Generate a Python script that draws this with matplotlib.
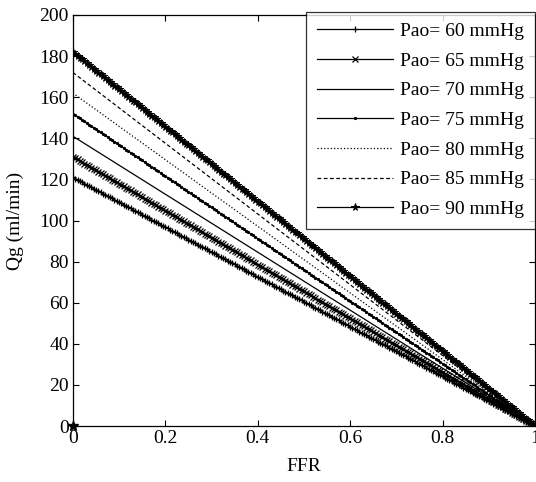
import numpy as np
import matplotlib
matplotlib.use("Agg")
import matplotlib.pyplot as plt
from matplotlib.ticker import FixedLocator, FixedFormatter

plt.rcParams['font.family'] = ['Liberation Serif', 'DejaVu Serif']

# Data
pao_mmhg = [60, 65, 70, 75, 80, 85, 90]
qg_at_ffr0 = [121, 131, 141, 152, 162, 172, 182]   # Qg (ml/min) at FFR = 0
qg_at_ffr1 = [0, 0, 0, 0, 0, 0, 0]                 # Qg (ml/min) at FFR = 1
ffr_start, ffr_end = 0.0, 1.0
extra_point_ffr = [0.0]
extra_point_qg = [0.0]

x_ticks = [0, 0.2, 0.4, 0.6, 0.8, 1.0]
x_tick_labels = ['0', '0.2', '0.4', '0.6', '0.8', '1']
y_ticks = [0, 20, 40, 60, 80, 100, 120, 140, 160, 180, 200]

styles = [
    dict(ls='-', marker='+', ms=5, mew=0.9),
    dict(ls='-', marker='x', ms=4, mew=0.9),
    dict(ls='-', marker='', ms=0),
    dict(ls='-', marker='.', ms=3),
    dict(ls=':', marker='', ms=0),
    dict(ls=(0, (3, 2)), marker='', ms=0),
    dict(ls='-', marker='*', ms=5.5, mew=0.7),
]

FS = 14
fig = plt.figure(figsize=(5.36, 4.82), dpi=100)
ax = fig.add_axes([0.136, 0.116, 0.862, 0.853])

n = 201
for p, q0, q1, st in zip(pao_mmhg, qg_at_ffr0, qg_at_ffr1, styles):
    x = np.linspace(ffr_start, ffr_end, n)
    y = np.linspace(q0, q1, n)
    ax.plot(x, y, color='black', lw=0.9, linestyle=st['ls'], marker=st['marker'],
            ms=st['ms'], mew=st.get('mew', 0.8), label=f'Pao= {p} mmHg')

ax.plot(extra_point_ffr, extra_point_qg, color='black', marker='*', ms=7, ls='none',
        clip_on=False)

ax.set_xlim(0, 1)
ax.set_ylim(0, 200)
ax.xaxis.set_major_locator(FixedLocator(x_ticks))
ax.xaxis.set_major_formatter(FixedFormatter(x_tick_labels))
ax.set_yticks(y_ticks)
ax.tick_params(direction='in', top=True, right=True, labelsize=FS, length=4, width=0.8, pad=3)
for s in ax.spines.values():
    s.set_linewidth(0.9)
ax.set_xlabel('FFR', fontsize=FS, labelpad=8)
ax.set_ylabel('Qg (ml/min)', fontsize=FS, labelpad=11)

leg = ax.legend(loc='upper right', bbox_to_anchor=(535/536, 1 - 11.7/482),
                bbox_transform=fig.transFigure, fontsize=FS, frameon=True,
                fancybox=False, edgecolor='black', handlelength=3.9,
                handletextpad=0.4, labelspacing=0.62, borderpad=0.55,
                borderaxespad=0, markerscale=1.0)
leg.get_frame().set_linewidth(0.9)

fig.savefig('out.png', dpi=100)
